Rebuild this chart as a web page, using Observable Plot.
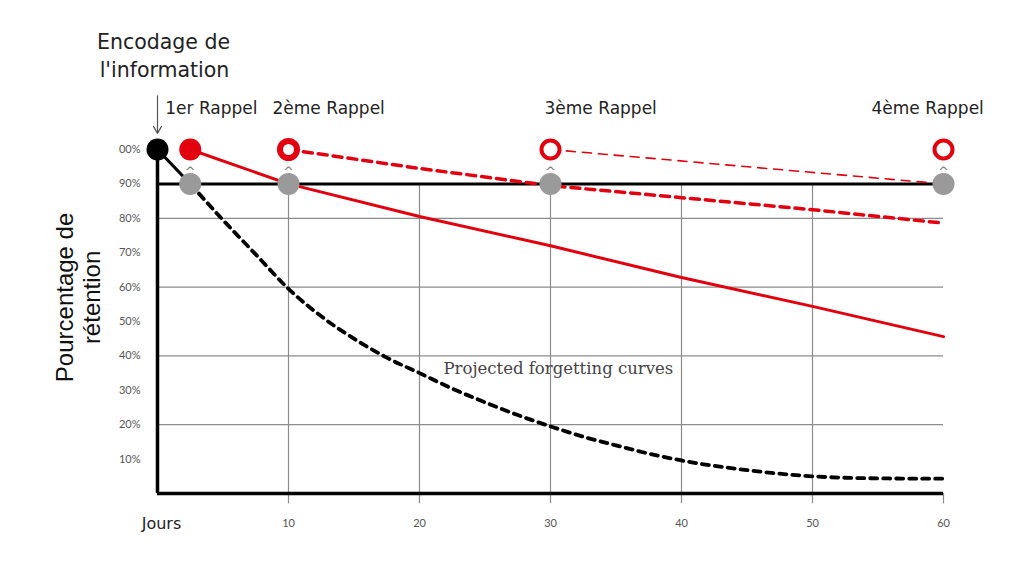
<!DOCTYPE html>
<html>
<head>
<meta charset="utf-8">
<script src="https://cdn.jsdelivr.net/npm/d3@7"></script>
<script src="https://cdn.jsdelivr.net/npm/@observablehq/plot@0.6"></script>
<style>
  html, body { margin: 0; padding: 0; background: #fff; }
  svg { display: block; }
</style>
</head>
<body>
<div id="chart"></div>
<script>
// ---- Data ----
const xTickDays = [0, 10, 20, 30, 40, 50, 60];
const xTickLabels = ["Jours", "10", "20", "30", "40", "50", "60"];
const yTickValues = [10, 20, 30, 40, 50, 60, 70, 80, 90, 100];
const yTickLabels = ["10%", "20%", "30%", "40%", "50%", "60%", "70%", "80%", "90%", "00%"];
const gridYValues = [20, 40, 60, 80];
const gridXDays = [10, 20, 30, 40, 50];

const encodingDay = 0;
const encodingValue = 100;

const rappelDays = [2.5, 10, 30, 60];
const rappelLabels = ["1er Rappel", "2ème Rappel", "3ème Rappel", "4ème Rappel"];
const rappelValue = 100;
const targetValue = 90;

// Black: initial decay (solid) then projected forgetting curve (dashed)
const initialDays = [0, 2.5];
const initialValues = [100, 90];
const forgetDays = [2.5, 5, 7.5, 10, 12.5, 15, 17.5, 20, 22.5, 25, 27.5, 30, 32.5, 35, 37.5, 40, 45, 50, 55, 60];
const forgetValues = [90, 79.5, 69.5, 59.5, 51.5, 45, 39.5, 35, 30.5, 26.5, 22.8, 19.5, 16.5, 14, 11.6, 9.6, 6.8, 5, 4.4, 4.3];

// Red solid: after 1st recall
const recall1Days = [2.5, 10, 20, 30, 40, 50, 60];
const recall1Values = [100, 90, 80.5, 72, 62.8, 54.4, 45.6];
// Red dashed (thick): after 2nd recall
const recall2Days = [10, 20, 30, 40, 50, 60];
const recall2Values = [100, 94.5, 89.5, 86, 82.5, 78.6];
// Red dashed (thin): after 3rd recall
const recall3Days = [30, 60];
const recall3Values = [100, 90];

// ---- Build tables ----
const zip = (xs, ys) => xs.map((x, i) => ({x, y: ys[i]}));
const red = "#e3000f";
const labelFont = "'DejaVu Sans', sans-serif";
const labelOffsets = [-25, -16, -6, -72];

const rappelTextMarks = rappelDays.map((d, i) =>
  Plot.text([d], {x: v => v, y: rappelValue, text: () => rappelLabels[i], textAnchor: "start",
    dx: labelOffsets[i], dy: -41, fill: "#222", fontSize: 17, fontFamily: labelFont})
);

const chart = Plot.plot({
  width: 1024,
  height: 569,
  marginLeft: 157,
  marginRight: 81,
  marginTop: 149,
  marginBottom: 76,
  x: {domain: [0, 60], axis: null},
  y: {domain: [0, 100], axis: null},
  style: {fontFamily: "Lato, sans-serif", background: "#fff", overflow: "visible"},
  marks: [
    // grid lines
    Plot.ruleY(gridYValues, {y: d => d, x1: 0, x2: 60, stroke: "#8c8c8c", strokeWidth: 1.2}),
    Plot.ruleX(gridXDays, {x: d => d, y1: 90, y2: -3, stroke: "#8c8c8c", strokeWidth: 1.2}),
    Plot.ruleX([60], {x: d => d, y1: 0, y2: -3, stroke: "#8c8c8c", strokeWidth: 1.2}),
    // frame lines
    Plot.ruleY([targetValue], {y: d => d, x1: 0, x2: 60, stroke: "#000", strokeWidth: 3}),
    Plot.ruleY([0], {y: d => d, x1: 0, x2: 60, stroke: "#000", strokeWidth: 3.5}),
    Plot.ruleX([0], {x: d => d, y1: 0, y2: 100, stroke: "#000", strokeWidth: 3.5}),
    // curves
    Plot.line(zip(initialDays, initialValues), {x: "x", y: "y", stroke: "#000", strokeWidth: 3}),
    Plot.line(zip(forgetDays, forgetValues), {x: "x", y: "y", stroke: "#000", strokeWidth: 3.8, strokeDasharray: "7,6", curve: "monotone-x"}),
    Plot.line(zip(recall1Days, recall1Values), {x: "x", y: "y", stroke: red, strokeWidth: 3}),
    Plot.line(zip(recall2Days, recall2Values), {x: "x", y: "y", stroke: red, strokeWidth: 3.5, strokeDasharray: "9,6"}),
    Plot.line(zip(recall3Days, recall3Values), {x: "x", y: "y", stroke: red, strokeWidth: 1.6, strokeDasharray: "9,7"}),
    // carets between recall and target
    Plot.text(rappelDays, {x: d => d, y: 96, text: () => "^", fill: "#777", fontSize: 13, dy: 9, fontFamily: labelFont}),
    // dots
    Plot.dot(rappelDays, {x: d => d, y: targetValue, r: 11, fill: "#9a9a9a"}),
    Plot.dot([encodingDay], {x: d => d, y: encodingValue, r: 11, fill: "#000"}),
    Plot.dot([rappelDays[0]], {x: d => d, y: rappelValue, r: 11, fill: red}),
    Plot.dot([rappelDays[1]], {x: d => d, y: rappelValue, r: 8.5, fill: "#fff", stroke: red, strokeWidth: 6}),
    Plot.dot(rappelDays.slice(2), {x: d => d, y: rappelValue, r: 9, fill: "#fff", stroke: red, strokeWidth: 4}),
    // y tick labels
    Plot.text(yTickValues, {x: 0, y: d => d, text: (d, i) => yTickLabels[i], textAnchor: "end", dx: -17, fill: "#555", fontSize: 11}),
    // x tick labels
    Plot.text(xTickDays.slice(1), {x: d => d, y: 0, text: (d, i) => xTickLabels[i + 1], dy: 30, fill: "#555", fontSize: 11}),
    Plot.text([xTickDays[0]], {x: d => d, y: 0, text: () => xTickLabels[0], dy: 30, dx: 4, fill: "#222", fontSize: 16, fontFamily: labelFont}),
    // recall labels
    ...rappelTextMarks,
    // encoding annotation
    Plot.text([encodingDay], {x: d => d, y: encodingValue, text: () => "Encodage de", dx: 6, dy: -107, fill: "#222", fontSize: 20.5, fontFamily: labelFont}),
    Plot.text([encodingDay], {x: d => d, y: encodingValue, text: () => "l'information", dx: 7, dy: -79, fill: "#222", fontSize: 20.5, fontFamily: labelFont}),
    Plot.arrow([encodingDay], {x1: d => d, x2: d => d, y1: 115.6, y2: 104.7, stroke: "#555", strokeWidth: 1.2, headLength: 10}),
    // y axis label
    Plot.text(["Pourcentage de"], {x: 0, y: 57, text: d => d, rotate: -90, dx: -92, fill: "#111", fontSize: 24, fontFamily: "'Liberation Sans', Arial, sans-serif"}),
    Plot.text(["rétention"], {x: 0, y: 57, text: d => d, rotate: -90, dx: -65, fill: "#111", fontSize: 24, fontFamily: "'Liberation Sans', Arial, sans-serif"}),
    // curve annotation
    Plot.text(["Projected forgetting curves"], {x: 30.6, y: 36.3, text: d => d, fill: "#444", fontSize: 16.5, fontFamily: "'DejaVu Serif', serif"})
  ]
});
document.getElementById("chart").appendChild(chart);
</script>
</body>
</html>
